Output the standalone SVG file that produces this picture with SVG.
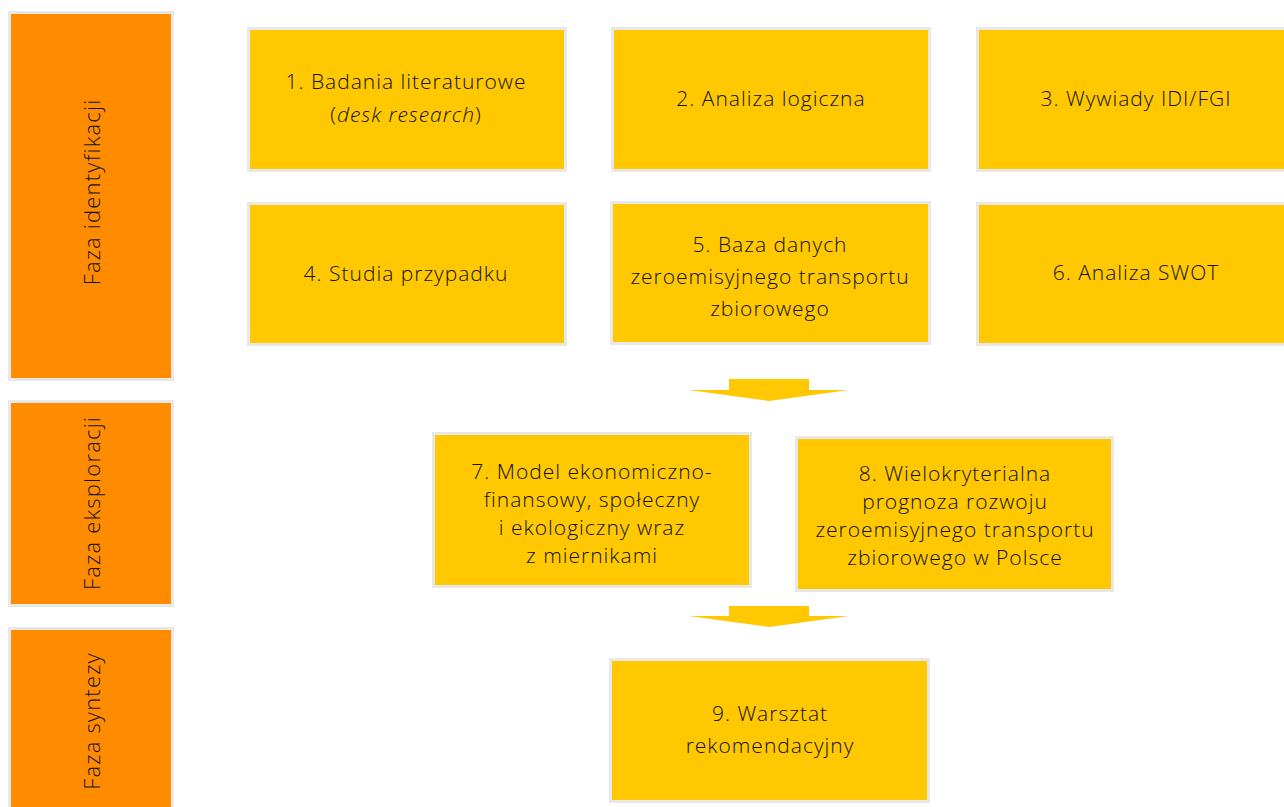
<svg xmlns="http://www.w3.org/2000/svg" width="1284" height="807" viewBox="0 0 1284 807">
<style>
.ph{fill:#ff8c00;stroke:#e8e8e8;stroke-width:3}
.bx{fill:#ffc800;stroke:#e8e8e8;stroke-width:3}
.ar{fill:#ffc800}
text{font-family:"Open Sans","Noto Sans","Liberation Sans",sans-serif;font-weight:300;font-size:21px;letter-spacing:1px;fill:#111;text-anchor:middle;dominant-baseline:central}
.pl{font-size:22px;letter-spacing:1.2px}
</style>
<rect width="1284" height="807" fill="#fff"/>
<g id="phase1"><rect class="ph" x="9.5" y="12.5" width="163" height="367"/><text class="pl" transform="translate(91,192) rotate(-90)">Faza identyfikacji</text></g>
<g id="phase2"><rect class="ph" x="9.5" y="401.5" width="163" height="204"/><text class="pl" transform="translate(91,503) rotate(-90)">Faza eksploracji</text></g>
<g id="phase3"><rect class="ph" x="9.5" y="628.5" width="163" height="190"/><text class="pl" transform="translate(91,721) rotate(-90)">Faza syntezy</text></g>

<g id="n1"><rect class="bx" x="248.5" y="28.5" width="317" height="142"/><text x="406" y="81">1. Badania literaturowe</text><text x="406" y="114">(<tspan font-style="italic">desk research</tspan>)</text></g>
<g id="n2"><rect class="bx" x="612.5" y="28.5" width="317" height="142"/><text x="771" y="98">2. Analiza logiczna</text></g>
<g id="n3"><rect class="bx" x="977.5" y="28.5" width="320" height="142"/><text x="1136" y="98">3. Wywiady IDI/FGI</text></g>
<g id="n4"><rect class="bx" x="248.5" y="203.5" width="317" height="141"/><text x="406" y="273">4. Studia przypadku</text></g>
<g id="n5"><rect class="bx" x="611.5" y="202.5" width="318" height="141"/><text x="770" y="244">5. Baza danych</text><text x="770" y="276">zeroemisyjnego transportu</text><text x="770" y="308">zbiorowego</text></g>
<g id="n6"><rect class="bx" x="977.5" y="203.5" width="320" height="141"/><text x="1136" y="272">6. Analiza SWOT</text></g>
<g id="n7"><rect class="bx" x="433.5" y="433.5" width="317" height="153"/><text x="592" y="471">7. Model ekonomiczno-</text><text x="592" y="499">finansowy, społeczny</text><text x="592" y="527">i ekologiczny wraz</text><text x="592" y="555">z miernikami</text></g>
<g id="n8"><rect class="bx" x="796.5" y="437.5" width="316" height="153"/><text x="955" y="473">8. Wielokryterialna</text><text x="955" y="501">prognoza rozwoju</text><text x="955" y="529">zeroemisyjnego transportu</text><text x="955" y="557">zbiorowego w Polsce</text></g>
<g id="n9"><rect class="bx" x="610.5" y="659.5" width="318" height="142"/><text x="770" y="713">9. Warsztat</text><text x="770" y="745">rekomendacyjny</text></g>

<g id="connectors">
<polygon class="ar" points="729,379 809,379 809,390 849,390 769,401 689,390 729,390"/>
<polygon class="ar" points="729,606 809,606 809,616 849,616 769,627 689,616 729,616"/>
</g>
</svg>
